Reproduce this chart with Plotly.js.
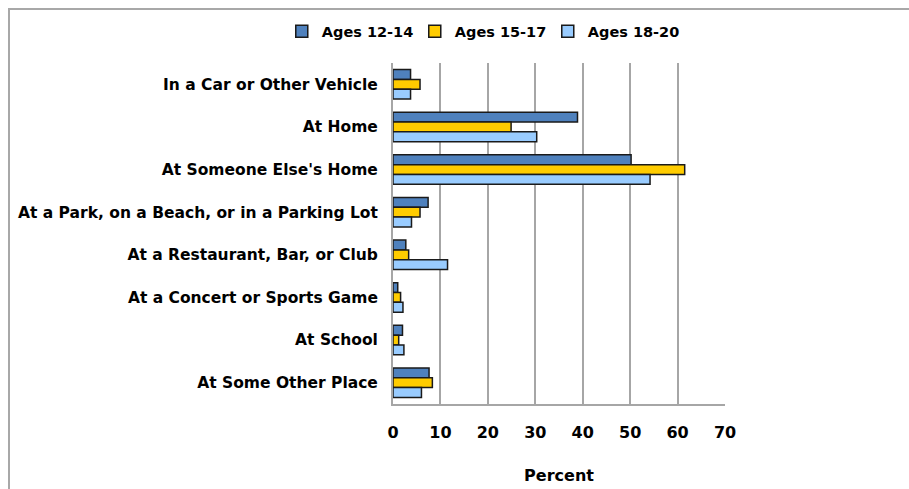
<!DOCTYPE html>
<html>
<head>
<meta charset="utf-8">
<script src="https://cdn.plot.ly/plotly-3.0.1.min.js"></script>
<style>
html,body{margin:0;padding:0;background:#fff;}
#frame{position:absolute;left:8px;top:8px;width:920px;height:500px;border-top:2px solid #a8a8a8;border-left:2px solid #a8a8a8;box-sizing:border-box;pointer-events:none;}
#chart{position:absolute;left:0;top:0;width:909px;height:489px;}
</style>
</head>
<body>
<div id="chart"></div>
<div id="frame"></div>
<script>
const categories = [
  "In a Car or Other Vehicle",
  "At Home",
  "At Someone Else's Home",
  "At a Park, on a Beach, or in a Parking Lot",
  "At a Restaurant, Bar, or Club",
  "At a Concert or Sports Game",
  "At School",
  "At Some Other Place"
];
const seriesNames = ["Ages 12-14", "Ages 15-17", "Ages 18-20"];
const ages12to14 = [3.7, 38.9, 50.2, 7.4, 2.7, 1.0, 2.0, 7.6];
const ages15to17 = [5.7, 24.9, 61.5, 5.7, 3.3, 1.6, 1.2, 8.3];
const ages18to20 = [3.7, 30.3, 54.2, 3.9, 11.5, 2.1, 2.3, 6.0];
const xTicks = [0, 10, 20, 30, 40, 50, 60, 70];

const colors = ["#4f81bd", "#ffcc00", "#99ccff"];
const values = [ages12to14, ages15to17, ages18to20];
const FONT = "DejaVu Sans, Verdana, sans-serif";

const traces = values.map((v, i) => ({
  type: "bar",
  orientation: "h",
  name: seriesNames[i],
  x: v,
  y: categories,
  marker: {color: colors[i], line: {color: "#1a1a1a", width: 1.5}},
  hoverinfo: "x+y+name"
}));

const layout = {
  width: 909,
  height: 489,
  margin: {l: 393, r: 184, t: 63, b: 85},
  paper_bgcolor: "#ffffff",
  plot_bgcolor: "#ffffff",
  font: {family: FONT, color: "#000", size: 15},
  barmode: "group",
  bargap: 0.31,
  bargroupgap: 0,
  showlegend: true,
  legend: {
    orientation: "h",
    xref: "paper", yref: "paper",
    x: -0.335, xanchor: "left",
    y: 1.14, yanchor: "top",
    font: {family: FONT, size: 14.5, weight: "bold", color: "#000"},
    itemwidth: 30,
    entrywidth: 88,
    entrywidthmode: "pixels",
    tracegroupgap: 0,
    traceorder: "normal"
  },
  xaxis: {
    range: [0, 70],
    tickvals: xTicks,
    ticktext: xTicks.map(String),
    showgrid: true,
    gridcolor: "#a6a6a6",
    gridwidth: 2,
    zeroline: false,
    showline: true,
    linecolor: "#a6a6a6",
    linewidth: 2,
    ticks: "",
    ticklabelstandoff: 13,
    tickfont: {family: FONT, size: 16, weight: "bold", color: "#000"},
    title: {text: "Percent", font: {family: FONT, size: 16, weight: "bold", color: "#000"}, standoff: 29},
    fixedrange: true
  },
  yaxis: {
    type: "category",
    autorange: "reversed",
    showgrid: false,
    showline: true,
    linecolor: "#a6a6a6",
    linewidth: 2,
    ticks: "",
    ticklabelstandoff: 10,
    tickfont: {family: FONT, size: 15.5, weight: "bold", color: "#000"},
    fixedrange: true
  }
};

Plotly.newPlot("chart", traces, layout, {displayModeBar: false, staticPlot: true});
</script>
</body>
</html>
